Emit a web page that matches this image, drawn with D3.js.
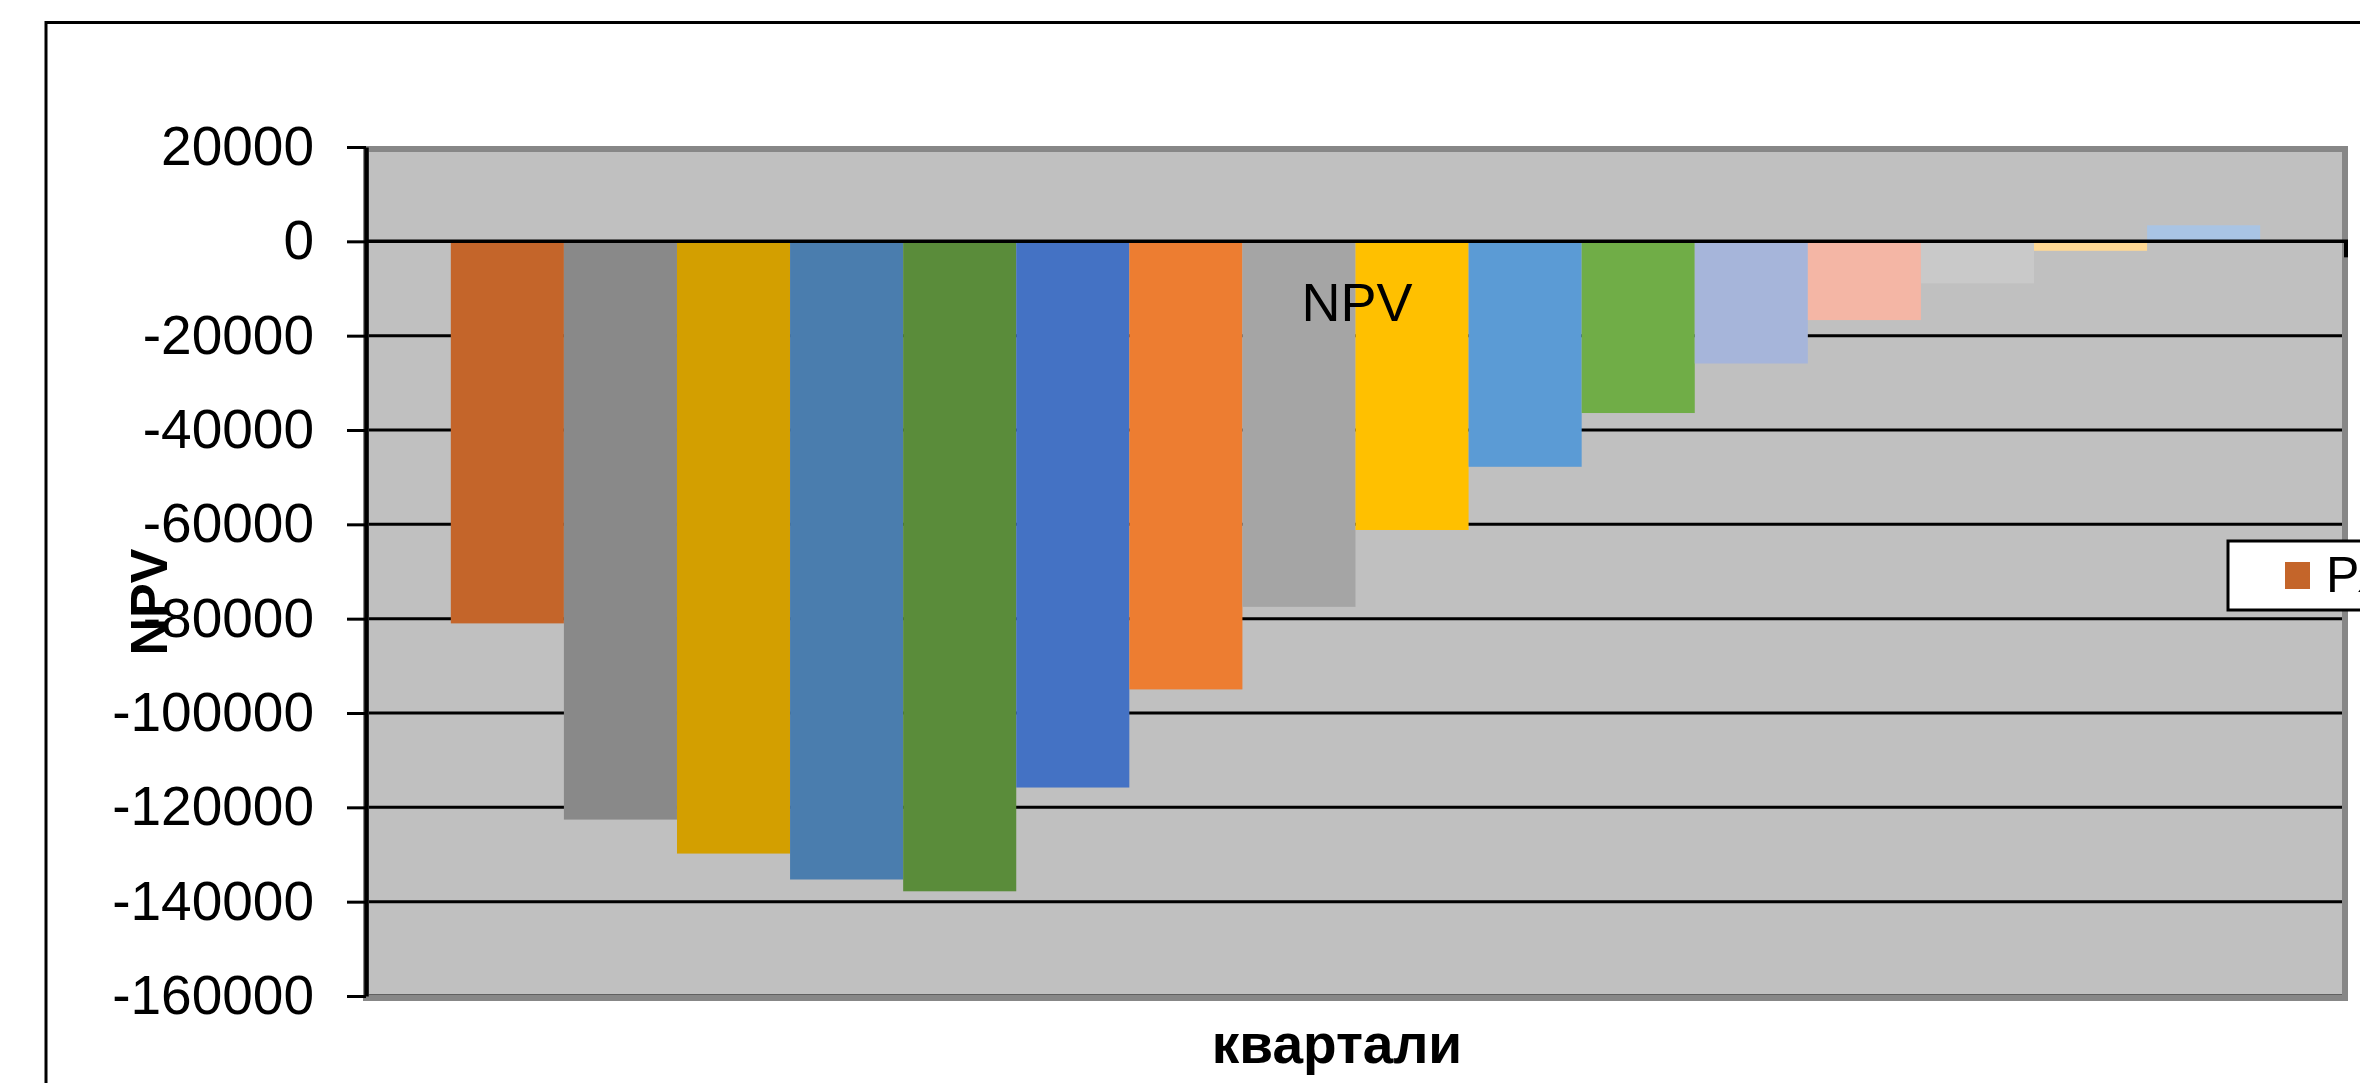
<!DOCTYPE html>
<html>
<head>
<meta charset="utf-8">
<script src="https://cdn.jsdelivr.net/npm/d3@7/dist/d3.min.js"></script>
<style>
  html, body { margin: 0; padding: 0; background: #fff; overflow: hidden; }
  svg { display: block; font-family: "Liberation Sans", Arial, sans-serif; }
</style>
</head>
<body>
<div id="chart"></div>
<script>
const categories = ['']
const seriesNames = ['Ряд1', 'Ряд2', 'Ряд3', 'Ряд4', 'Ряд5', 'Ряд6', 'Ряд7', 'Ряд8',
  'Ряд9', 'Ряд10', 'Ряд11', 'Ряд12', 'Ряд13', 'Ряд14', 'Ряд15', 'Ряд16']
const npvValues = [-81000, -122600, -129800, -135300, -137800, -115800, -95000, -77500,
  -61200, -47800, -36400, -25900, -16700, -8900, -2000, 3400]
const barColors = ['#c4652a', '#898989', '#d39f00', '#4a7dae', '#5a8c3a', '#4472c4', '#ed7d31', '#a5a5a5',
  '#ffc000', '#5b9bd5', '#70ad47', '#a6b5da', '#f4b6a5', '#c9c9c9', '#ffd894', '#a9c4e4']
const yTickValues = [20000, 0, -20000, -40000, -60000, -80000, -100000, -120000, -140000, -160000]
const chartTitle = 'NPV'
const yTitle = 'NPV'
const xTitle = 'квартали'

function NpvChart(el) {
  this.el = el
  this.width = 2360
  this.height = 1083
  // plot area
  this.left = 366
  this.right = 2345
  this.top = 147
  this.bottom = 996
  this.load()
}

NpvChart.prototype.load = function () {
  var svg = d3.select(this.el)
    .append('svg')
      .attr('width', this.width)
      .attr('height', this.height)

  // outer chart frame (runs past the right and bottom edge)
  svg.append('rect')
      .attr('x', 46)
      .attr('y', 22.5)
      .attr('width', 2500)
      .attr('height', 1200)
      .attr('fill', '#fff')
      .attr('stroke', '#000')
      .attr('stroke-width', 3)

  this.y = d3.scaleLinear()
      .domain([d3.min(yTickValues), d3.max(yTickValues)])
      .range([this.bottom, this.top])

  this.xCat = d3.scaleBand()
      .domain(categories)
      .range([this.left, this.right])

  this.xSeries = d3.scaleBand()
      .domain(seriesNames)
      .range([this.left, this.right])
      .paddingInner(0)
      .paddingOuter(0.75)

  var data = seriesNames.map((s, i) => ({ name: s, value: npvValues[i], color: barColors[i] }))

  // plot background
  svg.append('rect')
      .attr('x', this.left)
      .attr('y', this.top + 2)
      .attr('width', this.right - this.left)
      .attr('height', this.bottom - this.top)
      .attr('fill', '#c0c0c0')

  // gridlines
  svg.append('g')
    .selectAll('line.grid')
    .data(yTickValues.filter(d => d !== 0 && d !== 20000))
    .join('line')
      .attr('class', 'grid')
      .attr('x1', this.left)
      .attr('x2', this.right - 3)
      .attr('y1', d => this.y(d))
      .attr('y2', d => this.y(d))
      .attr('stroke', '#000')
      .attr('stroke-width', 3)

  // bars
  svg.append('g')
    .selectAll('rect.bar')
    .data(data)
    .join('rect')
      .attr('class', 'bar')
      .attr('x', d => this.xSeries(d.name))
      .attr('y', d => Math.min(this.y(d.value), this.y(0)))
      .attr('width', this.xSeries.bandwidth())
      .attr('height', d => Math.abs(this.y(d.value) - this.y(0)))
      .attr('fill', d => d.color)

  // plot border
  svg.append('rect')
      .attr('x', this.left)
      .attr('y', this.top + 2)
      .attr('width', this.right - this.left)
      .attr('height', this.bottom - this.top)
      .attr('fill', 'none')
      .attr('stroke', '#878787')
      .attr('stroke-width', 6)

  // x axis at zero
  svg.append('line')
      .attr('x1', this.left)
      .attr('x2', this.xCat.range()[1] + 3)
      .attr('y1', this.y(0))
      .attr('y2', this.y(0))
      .attr('stroke', '#000')
      .attr('stroke-width', 3.5)
  svg.append('line')
      .attr('x1', this.xCat.range()[1] + 1)
      .attr('x2', this.xCat.range()[1] + 1)
      .attr('y1', this.y(0))
      .attr('y2', this.y(0) + 16)
      .attr('stroke', '#000')
      .attr('stroke-width', 4)

  // y axis
  var yAxis = d3.axisLeft(this.y)
      .tickValues(yTickValues)
      .tickFormat(d => String(d))
      .tickSize(19)
      .tickSizeOuter(0)
      .tickPadding(33)

  var ya = svg.append('g')
      .attr('transform', `translate(${this.left}, 0)`)
      .call(yAxis)
  ya.select('.domain')
      .attr('stroke', '#000')
      .attr('stroke-width', 4.5)
  ya.selectAll('.tick line')
      .attr('stroke', '#000')
      .attr('stroke-width', 3)
  ya.selectAll('.tick text')
      .attr('fill', '#000')
      .attr('font-size', 55)
      .attr('font-family', '"Liberation Sans", Arial, sans-serif')

  // titles
  svg.append('text')
      .text(chartTitle)
      .attr('x', 1357)
      .attr('y', 321)
      .attr('text-anchor', 'middle')
      .attr('font-size', 54)
      .attr('fill', '#000')

  svg.append('text')
      .text(yTitle)
      .attr('transform', 'translate(167, 602) rotate(-90)')
      .attr('text-anchor', 'middle')
      .attr('font-size', 52)
      .attr('font-weight', 'bold')
      .attr('fill', '#000')

  svg.append('text')
      .text(xTitle)
      .attr('x', 1337)
      .attr('y', 1063)
      .attr('text-anchor', 'middle')
      .attr('font-size', 55)
      .attr('font-weight', 'bold')
      .attr('fill', '#000')

  // legend: only the first entry fits before the picture's right edge
  var legend = svg.append('g')
      .attr('transform', 'translate(2228, 541)')
  legend.append('rect')
      .attr('width', 400)
      .attr('height', 69)
      .attr('fill', '#fff')
      .attr('stroke', '#000')
      .attr('stroke-width', 3)
  var items = legend.selectAll('g.item')
    .data(data.slice(0, 1))
    .join('g')
      .attr('class', 'item')
      .attr('transform', 'translate(57, 0)')
  items.append('rect')
      .attr('y', 21)
      .attr('width', 25)
      .attr('height', 27)
      .attr('fill', d => d.color)
  items.append('text')
      .text(d => d.name)
      .attr('x', 41)
      .attr('y', 51)
      .attr('font-size', 50)
      .attr('fill', '#000')
}

new NpvChart('#chart')
</script>
</body>
</html>
